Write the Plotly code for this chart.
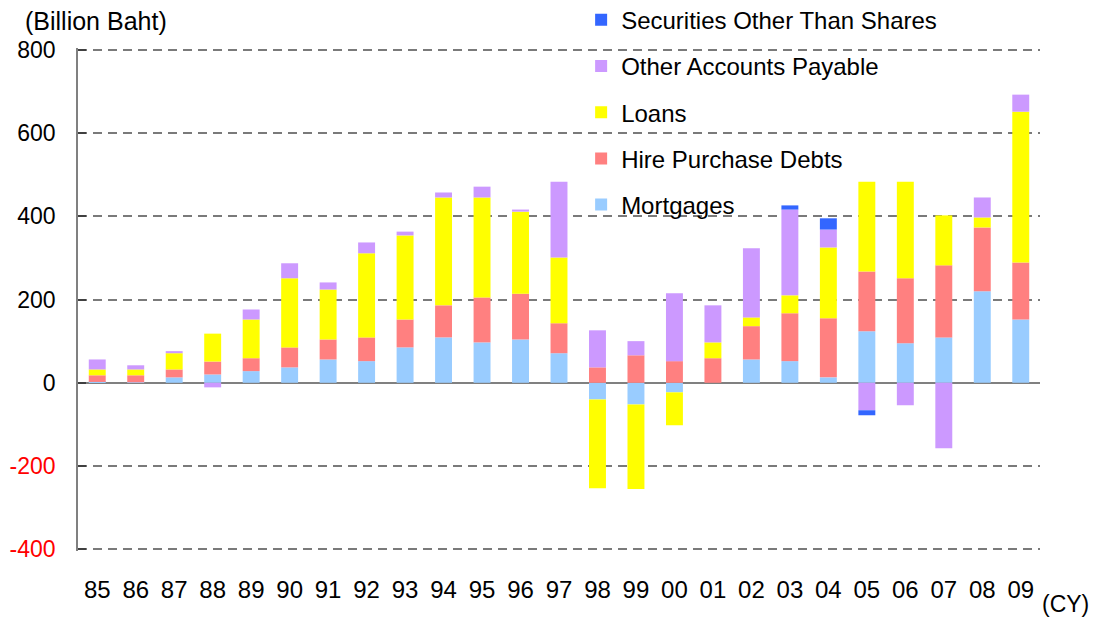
import plotly.graph_objects as go

years = ["85","86","87","88","89","90","91","92","93","94","95","96","97",
         "98","99","00","01","02","03","04","05","06","07","08","09"]

mortgages = [2, 1, 13, 20, 28, 37, 56, 52, 85, 109, 97, 104, 71,
             -40, -52, -23, 0, 56, 52, 13, 124, 95, 109, 220, 152]
hire_purchase = [16, 17, 19, 31, 31, 48, 48, 57, 67, 77, 108, 110, 72,
                 37, 66, 52, 59, 80, 115, 142, 143, 156, 173, 153, 137]
loans = [14, 14, 39, 67, 93, 166, 120, 202, 202, 259, 240, 197, 158,
         -213, -203, -79, 38, 21, 43, 170, 216, 232, 120, 24, 362]
other_payable = [24, 10, 5, -11, 24, 36, 17, 26, 9, 12, 26, 5, 182,
                 89, 34, 163, 89, 166, 206, 43, -66, -54, -157, 48, 41]
securities = [0, 0, 0, 0, 0, 0, 0, 0, 0, 0, 0, 0, 0,
              0, 0, 0, 0, 0, 10, 27, -12, 0, 0, 0, 0]

y_ticks = [-400, -200, 0, 200, 400, 600, 800]

series = [
    ("Mortgages", mortgages, "#99CCFF"),
    ("Hire Purchase Debts", hire_purchase, "#FF8080"),
    ("Loans", loans, "#FFFF00"),
    ("Other Accounts Payable", other_payable, "#CC99FF"),
    ("Securities Other Than Shares", securities, "#3366FF"),
]

fig = go.Figure()
for i, (name, vals, color) in enumerate(series):
    fig.add_trace(go.Bar(
        x=years, y=vals, name=name, marker_color=color,
        marker_line_width=0, width=0.44, legendgroup=name,
        legendrank=len(series) - i, hoverinfo="skip",
    ))

ticktext = [f"<span style='color:#FF0000'>{v}</span>" if v < 0 else str(v) for v in y_ticks]

FONT = "Liberation Sans, Arial, sans-serif"
pad = 4  # small range padding so edge gridlines are drawn

fig.update_layout(
    barmode="relative",
    width=1097, height=619,
    margin=dict(l=78, r=57, t=48, b=68, autoexpand=False),
    plot_bgcolor="white", paper_bgcolor="white",
    font=dict(family=FONT, size=22, color="black"),
    showlegend=True,
    legend=dict(
        x=0.523, y=1.1, xanchor="left", yanchor="top",
        traceorder="grouped", bgcolor="rgba(0,0,0,0)",
        font=dict(size=24, family=FONT), tracegroupgap=12,
    ),
    xaxis=dict(
        type="category", showgrid=False, showline=False, ticks="",
        tickfont=dict(size=24), ticklabelstandoff=22, automargin=False,
        range=[-0.5, len(years) - 0.5],
    ),
    yaxis=dict(
        range=[y_ticks[0] - pad, y_ticks[-1] + pad], tickvals=y_ticks, ticktext=ticktext,
        showgrid=True, gridcolor="#7a7a7a", gridwidth=1.5, griddash="9px,6px",
        zeroline=True, zerolinecolor="#808080", zerolinewidth=2,
        showline=True, linecolor="#808080", linewidth=1.5,
        ticks="inside", ticklen=8, tickcolor="#404040", tickwidth=1.5,
        tickfont=dict(size=23), ticklabelstandoff=16, automargin=False,
    ),
    annotations=[
        dict(text="(Billion Baht)", xref="paper", yref="paper",
             x=-0.057, y=1.054, xanchor="left", yanchor="middle",
             showarrow=False, font=dict(size=25)),
        dict(text="(CY)", xref="paper", yref="paper",
             x=1.0, y=-0.105, xanchor="left", yanchor="middle",
             showarrow=False, font=dict(size=23)),
    ],
)

fig.write_html("out.html", config={"displayModeBar": False},
               post_script="document.body.style.margin='0';")
